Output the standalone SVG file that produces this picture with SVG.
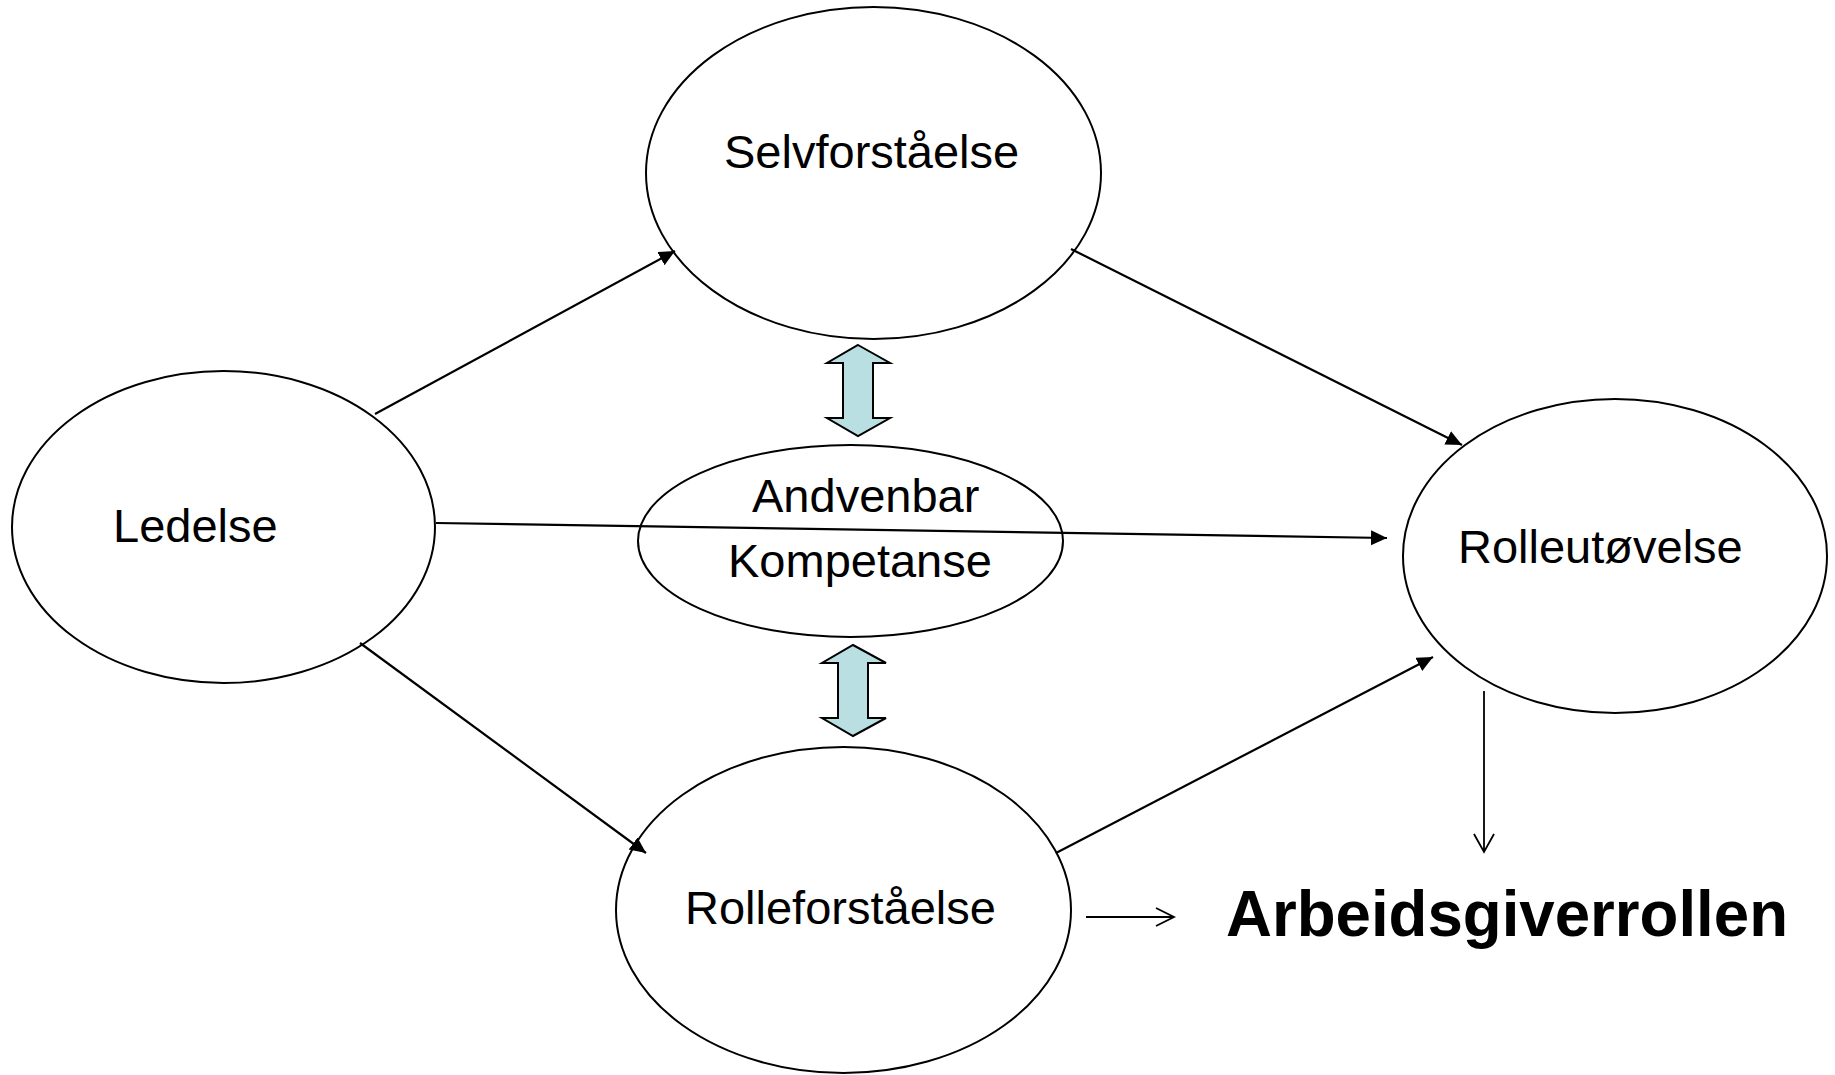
<svg xmlns="http://www.w3.org/2000/svg" width="1835" height="1075" viewBox="0 0 1835 1075">
<defs>
<style>
.node{fill:#fff;stroke:#000;stroke-width:2}
.lbl{font-family:"Liberation Sans",Arial,sans-serif;font-size:47px;fill:#000}
.conn{stroke:#000;stroke-width:2.2;fill:none}
.thin{stroke:#000;stroke-width:1.8;fill:none}
.dbl{fill:#B9DFE2;stroke:#000;stroke-width:2}
</style>
<marker id="ah" markerUnits="userSpaceOnUse" markerWidth="18" markerHeight="16" refX="16" refY="7.5" orient="auto">
<path d="M0,0 L16,7.5 L0,15 Z" fill="#000"/>
</marker>
</defs>
<rect width="1835" height="1075" fill="#fff"/>
<g id="ledelse">
<ellipse class="node" cx="223.5" cy="527" rx="211.5" ry="156"/>
<text class="lbl" x="113" y="542">Ledelse</text>
</g>
<g id="selvforstaaelse">
<ellipse class="node" cx="873.5" cy="173" rx="227.5" ry="166"/>
<text class="lbl" x="724" y="168">Selvforståelse</text>
</g>
<g id="kompetanse">
<ellipse class="node" cx="850.5" cy="541" rx="212.5" ry="96"/>
<text class="lbl" x="752" y="512">Andvenbar</text>
<text class="lbl" x="728" y="577">Kompetanse</text>
</g>
<g id="rolleutovelse">
<ellipse class="node" cx="1615" cy="556" rx="212" ry="157"/>
<text class="lbl" x="1458" y="563">Rolleutøvelse</text>
</g>
<g id="rolleforstaaelse">
<ellipse class="node" cx="843.5" cy="910" rx="227.5" ry="163"/>
<text class="lbl" x="685" y="924">Rolleforståelse</text>
</g>
<g id="arbeidsgiverrollen">
<text x="1226" y="936" font-family="'Liberation Sans',Arial,sans-serif" font-weight="bold" font-size="64" textLength="562" lengthAdjust="spacingAndGlyphs">Arbeidsgiverrollen</text>
</g>
<g id="connectors">
<line class="conn" x1="375" y1="414" x2="675" y2="251" marker-end="url(#ah)"/>
<line class="conn" x1="1071" y1="249" x2="1462" y2="445" marker-end="url(#ah)"/>
<line class="conn" x1="360" y1="643" x2="646" y2="853" marker-end="url(#ah)"/>
<line class="conn" x1="1056" y1="853" x2="1433" y2="657" marker-end="url(#ah)"/>
<line class="conn" x1="436" y1="523" x2="1387" y2="538" marker-end="url(#ah)"/>
<path class="thin" d="M1484,691 V852 M1474,834 L1484,852 L1494,834"/>
<path class="thin" d="M1086,917 H1174 M1156,908 L1174,917 L1156,926"/>
<path id="dbl-top" class="dbl" d="M858,345 L890,363 L873,363 L873,418 L890,418 L858,436 L827,418 L843,418 L843,363 L827,363 Z"/>
<path id="dbl-bottom" class="dbl" d="M853,645 L886,663 L868,663 L868,718 L886,718 L853,736 L822,718 L838,718 L838,663 L822,663 Z"/>
</g>
</svg>
